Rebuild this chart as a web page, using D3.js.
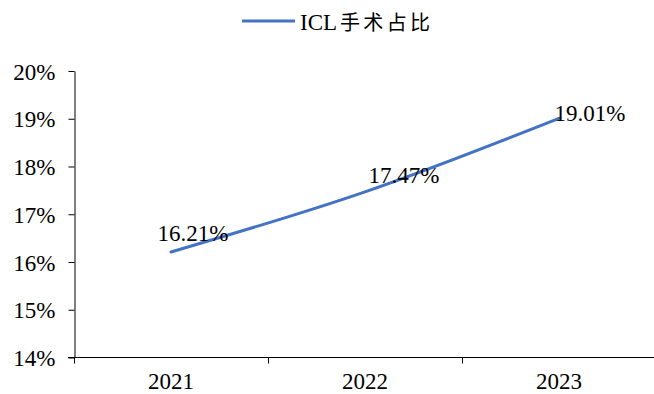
<!DOCTYPE html>
<html>
<head>
<meta charset="utf-8">
<script src="https://cdn.jsdelivr.net/npm/d3@7"></script>
<style>
  html, body { margin: 0; padding: 0; background: #fff; }
  svg { display: block; }
  text { font-family: "Liberation Serif", "Times New Roman", "Noto Sans CJK SC", serif; fill: #000; }
</style>
</head>
<body>
<svg id="chart" width="654" height="394"></svg>
<script>
const categories = ["2021", "2022", "2023"];
const values = [16.21, 17.47, 19.01];
const valueLabels = ["16.21%", "17.47%", "19.01%"];
const yTicks = [14, 15, 16, 17, 18, 19, 20];
const seriesLatin = "ICL";
const seriesCJK = "手术占比";

const svg = d3.select("#chart");
const color = "#4472C4";
const fontSize = 23;

const x = d3.scaleBand().domain(categories).range([74, 656]).padding(0);
const y = d3.scaleLinear().domain([14, 20]).range([357.5, 71]);

// Y axis
const yAxis = d3.axisLeft(y).tickValues(yTicks).tickFormat(d => d + "%").tickSize(6).tickSizeOuter(0);
const gy = svg.append("g").attr("transform", "translate(74.5,0)").call(yAxis);
gy.attr("font-family", null).attr("font-size", null);
gy.selectAll("text").style("font-size", fontSize + "px").attr("x", -19).attr("dy", "0.35em");
gy.selectAll("line, path").attr("stroke", "#000").attr("stroke-width", 1);

// X axis with ticks at band boundaries
const gx = svg.append("g").attr("transform", "translate(0,357.5)");
gx.append("line").attr("x1", 68).attr("x2", 656).attr("y1", 0).attr("y2", 0).attr("stroke", "#000");
const boundaries = categories.map(c => x(c)).concat([x(categories[categories.length - 1]) + x.bandwidth()]);
gx.selectAll("line.tk").data(boundaries).enter().append("line").attr("class", "tk")
  .attr("x1", d => Math.round(d) + 0.5).attr("x2", d => Math.round(d) + 0.5)
  .attr("y1", 0).attr("y2", 6).attr("stroke", "#000");
gx.selectAll("text").data(categories).enter().append("text")
  .attr("x", d => x(d) + x.bandwidth() / 2).attr("y", 31.5)
  .attr("text-anchor", "middle").style("font-size", fontSize + "px").text(d => d);

// Line
const pts = categories.map((c, i) => [x(c) + x.bandwidth() / 2, y(values[i])]);
svg.append("path").datum(pts)
  .attr("d", d3.line().curve(d3.curveMonotoneX))
  .attr("fill", "none").attr("stroke", color).attr("stroke-width", 3).attr("stroke-linecap", "round");

// Data labels (offsets relative to each point)
const labelOffsets = [[22, -11], [39, -9], [31, 3]];
svg.selectAll("text.lbl").data(values).enter().append("text").attr("class", "lbl")
  .attr("x", (d, i) => pts[i][0] + labelOffsets[i][0])
  .attr("y", (d, i) => pts[i][1] + labelOffsets[i][1])
  .attr("text-anchor", "middle").style("font-size", fontSize + "px")
  .text((d, i) => valueLabels[i]);

// Legend
const lg = svg.append("g");
lg.append("line").attr("x1", 242).attr("x2", 295).attr("y1", 21).attr("y2", 21)
  .attr("stroke", color).attr("stroke-width", 3);
const lt = lg.append("text").attr("x", 300).attr("y", 30).style("font-size", "23px");
lt.append("tspan").text(seriesLatin);
lt.append("tspan").attr("dx", 3).style("font-size", "20px").style("letter-spacing", "3.3px").text(seriesCJK);
</script>
</body>
</html>
